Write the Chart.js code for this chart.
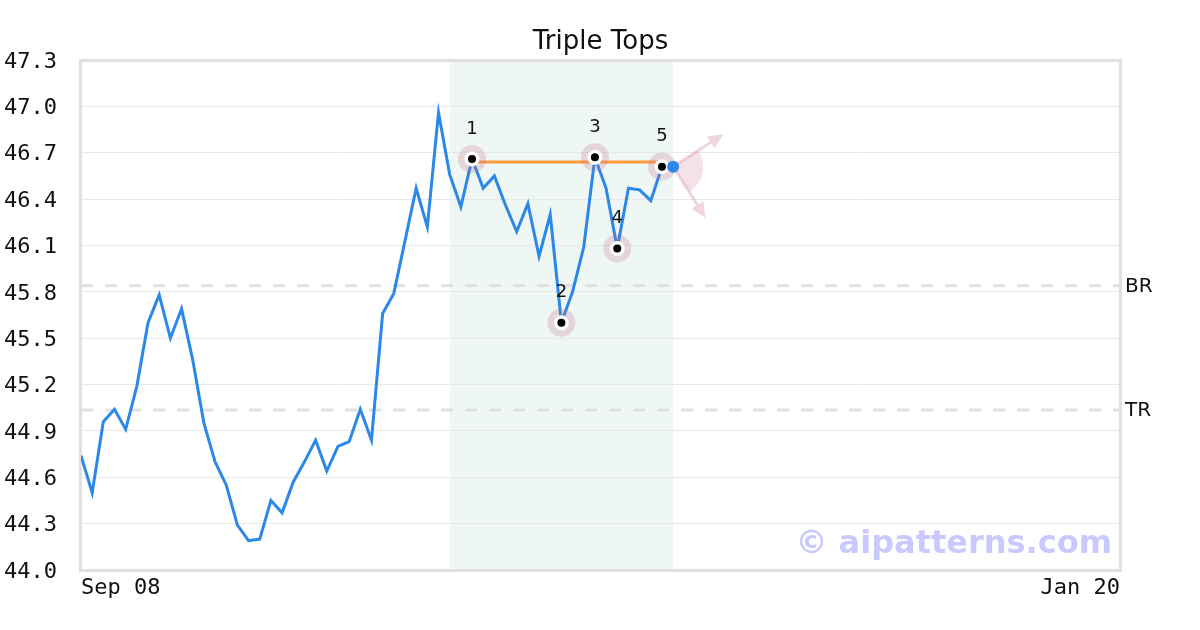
<!DOCTYPE html>
<html><head><meta charset="utf-8">
<script src="https://cdn.jsdelivr.net/npm/chart.js@4"></script>
<style>html,body{margin:0;padding:0;background:#fff}canvas{display:block}</style>
</head><body>
<canvas id="c" width="1200" height="630"></canvas>
<script>
// ---- data ----
const chartTitle = 'Triple Tops';
const values = [44.74,44.50,44.96,45.04,44.91,45.19,45.60,45.78,45.50,45.69,
  45.36,44.95,44.70,44.55,44.29,44.19,44.20,44.45,44.37,44.57,
  44.70,44.84,44.64,44.80,44.83,45.04,44.84,45.66,45.79,46.13,
  46.47,46.22,46.96,46.56,46.35,46.66,46.47,46.55,46.36,46.19,
  46.37,46.03,46.30,45.60,45.80,46.09,46.67,46.47,46.08,46.47,
  46.46,46.39,46.61,46.61];
const xMax = 93;
const xTickIdx = [0, 93];
const xTickLabels = ['Sep 08', 'Jan 20'];
const yTicks = [44.0,44.3,44.6,44.9,45.2,45.5,45.8,46.1,46.4,46.7,47.0,47.3];
const patternIdx = [35, 43, 46, 48, 52];
const patternLabels = ['1','2','3','4','5'];
const shadeRange = [33, 53];
const necklineIdx = [35, 52];
const necklineValue = 46.64;
const levelValues = [45.84, 45.035];
const levelLabels = ['BR', 'TR'];
const lastIdx = 53;
const arrowTips = [[57.5, 46.82], [55.9, 46.28]];
const watermark = '\u00A9 aipatterns.com';

const lastPoint = [{x: lastIdx, y: values[lastIdx]}];
const patternPts = patternIdx.map(i => ({x: i, y: values[i]}));

const decor = {
  id: 'decor',
  beforeDraw(chart) {
    const {ctx, chartArea: a, scales: {x}} = chart;
    ctx.save();
    ctx.fillStyle = '#eff7f4';
    const x0 = x.getPixelForValue(shadeRange[0]), x1 = x.getPixelForValue(shadeRange[1]);
    ctx.fillRect(x0, a.top, x1 - x0, a.bottom - a.top);
    ctx.restore();
  },
  beforeDatasetsDraw(chart) {
    const {ctx, chartArea: a, scales: {x, y}} = chart;
    ctx.save();
    ctx.strokeStyle = '#e0e0e0';
    ctx.lineWidth = 3;
    ctx.setLineDash([12, 12]);
    ctx.font = '20px "DejaVu Sans"';
    ctx.fillStyle = '#111';
    ctx.textBaseline = 'middle';
    ctx.textAlign = 'left';
    levelValues.forEach((v, k) => {
      const py = y.getPixelForValue(v);
      ctx.beginPath(); ctx.moveTo(a.left, py); ctx.lineTo(a.right, py); ctx.stroke();
      ctx.fillText(levelLabels[k], a.right + 5, py + 1);
    });
    ctx.setLineDash([]);
    ctx.strokeStyle = '#e0e0e0';
    ctx.lineWidth = 3;
    ctx.strokeRect(a.left - 0.5, a.top + 0.5, a.right - a.left + 1, a.bottom - a.top);
    // sector + arrows
    const ox = x.getPixelForValue(lastIdx), oy = y.getPixelForValue(values[lastIdx]);
    const tips = arrowTips.map(t => [x.getPixelForValue(t[0]), y.getPixelForValue(t[1])]);
    const angs = tips.map(t => Math.atan2(t[1] - oy, t[0] - ox));
    ctx.fillStyle = 'rgba(215,140,165,0.25)';
    ctx.beginPath(); ctx.moveTo(ox, oy); ctx.arc(ox, oy, 30, angs[0], angs[1]); ctx.closePath(); ctx.fill();
    ctx.strokeStyle = 'rgba(220,150,170,0.4)';
    ctx.fillStyle = 'rgba(220,150,170,0.4)';
    ctx.lineWidth = 3;
    tips.forEach((t, k) => {
      const ang = angs[k];
      const hl = 15, hw = 7;
      const bx = t[0] - hl * Math.cos(ang), by = t[1] - hl * Math.sin(ang);
      ctx.beginPath(); ctx.moveTo(ox, oy); ctx.lineTo(bx, by); ctx.stroke();
      ctx.beginPath();
      ctx.moveTo(t[0], t[1]);
      ctx.lineTo(bx + hw * Math.sin(ang), by - hw * Math.cos(ang));
      ctx.lineTo(bx - hw * Math.sin(ang), by + hw * Math.cos(ang));
      ctx.closePath(); ctx.fill();
    });
    ctx.restore();
  },
  afterDatasetsDraw(chart) {
    const {ctx, scales: {x, y}} = chart;
    ctx.save();
    ctx.font = '18px "DejaVu Sans"';
    ctx.fillStyle = '#111';
    ctx.textAlign = 'center';
    ctx.textBaseline = 'middle';
    patternPts.forEach((p, k) => {
      ctx.fillText(patternLabels[k], x.getPixelForValue(p.x), y.getPixelForValue(p.y) - 30);
    });
    ctx.restore();
  },
  afterDraw(chart) {
    const {ctx, chartArea: a} = chart;
    ctx.save();
    ctx.font = '26px "DejaVu Sans"';
    ctx.fillStyle = '#111';
    ctx.textAlign = 'center';
    ctx.textBaseline = 'middle';
    ctx.fillText(chartTitle, (a.left + a.right) / 2, 42);
    ctx.font = 'bold 32px "DejaVu Sans"';
    ctx.fillStyle = 'rgba(100,100,255,0.35)';
    ctx.textAlign = 'right';
    ctx.fillText(watermark, a.right - 8, a.bottom - 25);
    ctx.restore();
  }
};

new Chart(document.getElementById('c'), {
  type: 'line',
  data: {
    datasets: [
      {data: values.map((v, i) => ({x: i, y: v})), borderColor: '#2b87e8', borderWidth: 3, pointRadius: 0, tension: 0, order: 10},
      {data: necklineIdx.map(i => ({x: i, y: necklineValue})), borderColor: '#ff9a3c', borderWidth: 3, pointRadius: 0, order: 9},
      {data: patternPts, showLine: false, pointRadius: 14, pointBackgroundColor: 'rgba(190,110,140,0.25)', pointBorderWidth: 0, order: 8},
      {data: patternPts, showLine: false, pointRadius: 7.5, pointBackgroundColor: '#fff', pointBorderWidth: 0, order: 7},
      {data: patternPts, showLine: false, pointRadius: 4, pointBackgroundColor: '#000', pointBorderWidth: 0, order: 6},
      {data: lastPoint, showLine: false, pointRadius: 6, pointBackgroundColor: '#2b87e8', pointBorderWidth: 0, order: 5}
    ]
  },
  options: {
    responsive: false, animation: false, events: [],
    layout: {padding: {top: 60, right: 80, left: 0, bottom: 0}},
    plugins: {legend: {display: false}, tooltip: {enabled: false}, title: {display: false}},
    scales: {
      x: {
        type: 'linear', min: 0, max: xMax,
        grid: {display: false, drawTicks: false}, border: {display: false},
        afterBuildTicks: s => { s.ticks = xTickIdx.map(v => ({value: v})); },
        ticks: {callback: (v, i) => xTickLabels[i], align: 'inner', maxRotation: 0, autoSkip: false,
          font: {family: 'DejaVu Sans Mono', size: 22}, color: '#111', padding: 5},
        afterFit: s => { s.height = 60; }
      },
      y: {
        min: 44.0, max: 47.3,
        afterBuildTicks: s => { s.ticks = yTicks.map(v => ({value: v})); },
        ticks: {callback: v => Number(v).toFixed(1), font: {family: 'DejaVu Sans Mono', size: 22}, color: '#111', padding: 24, labelOffset: 2},
        grid: {color: '#e8e8e8', lineWidth: 1, drawTicks: false}, border: {display: false},
        afterFit: s => { s.width = 81; }
      }
    }
  },
  plugins: [decor]
});
</script></body></html>
